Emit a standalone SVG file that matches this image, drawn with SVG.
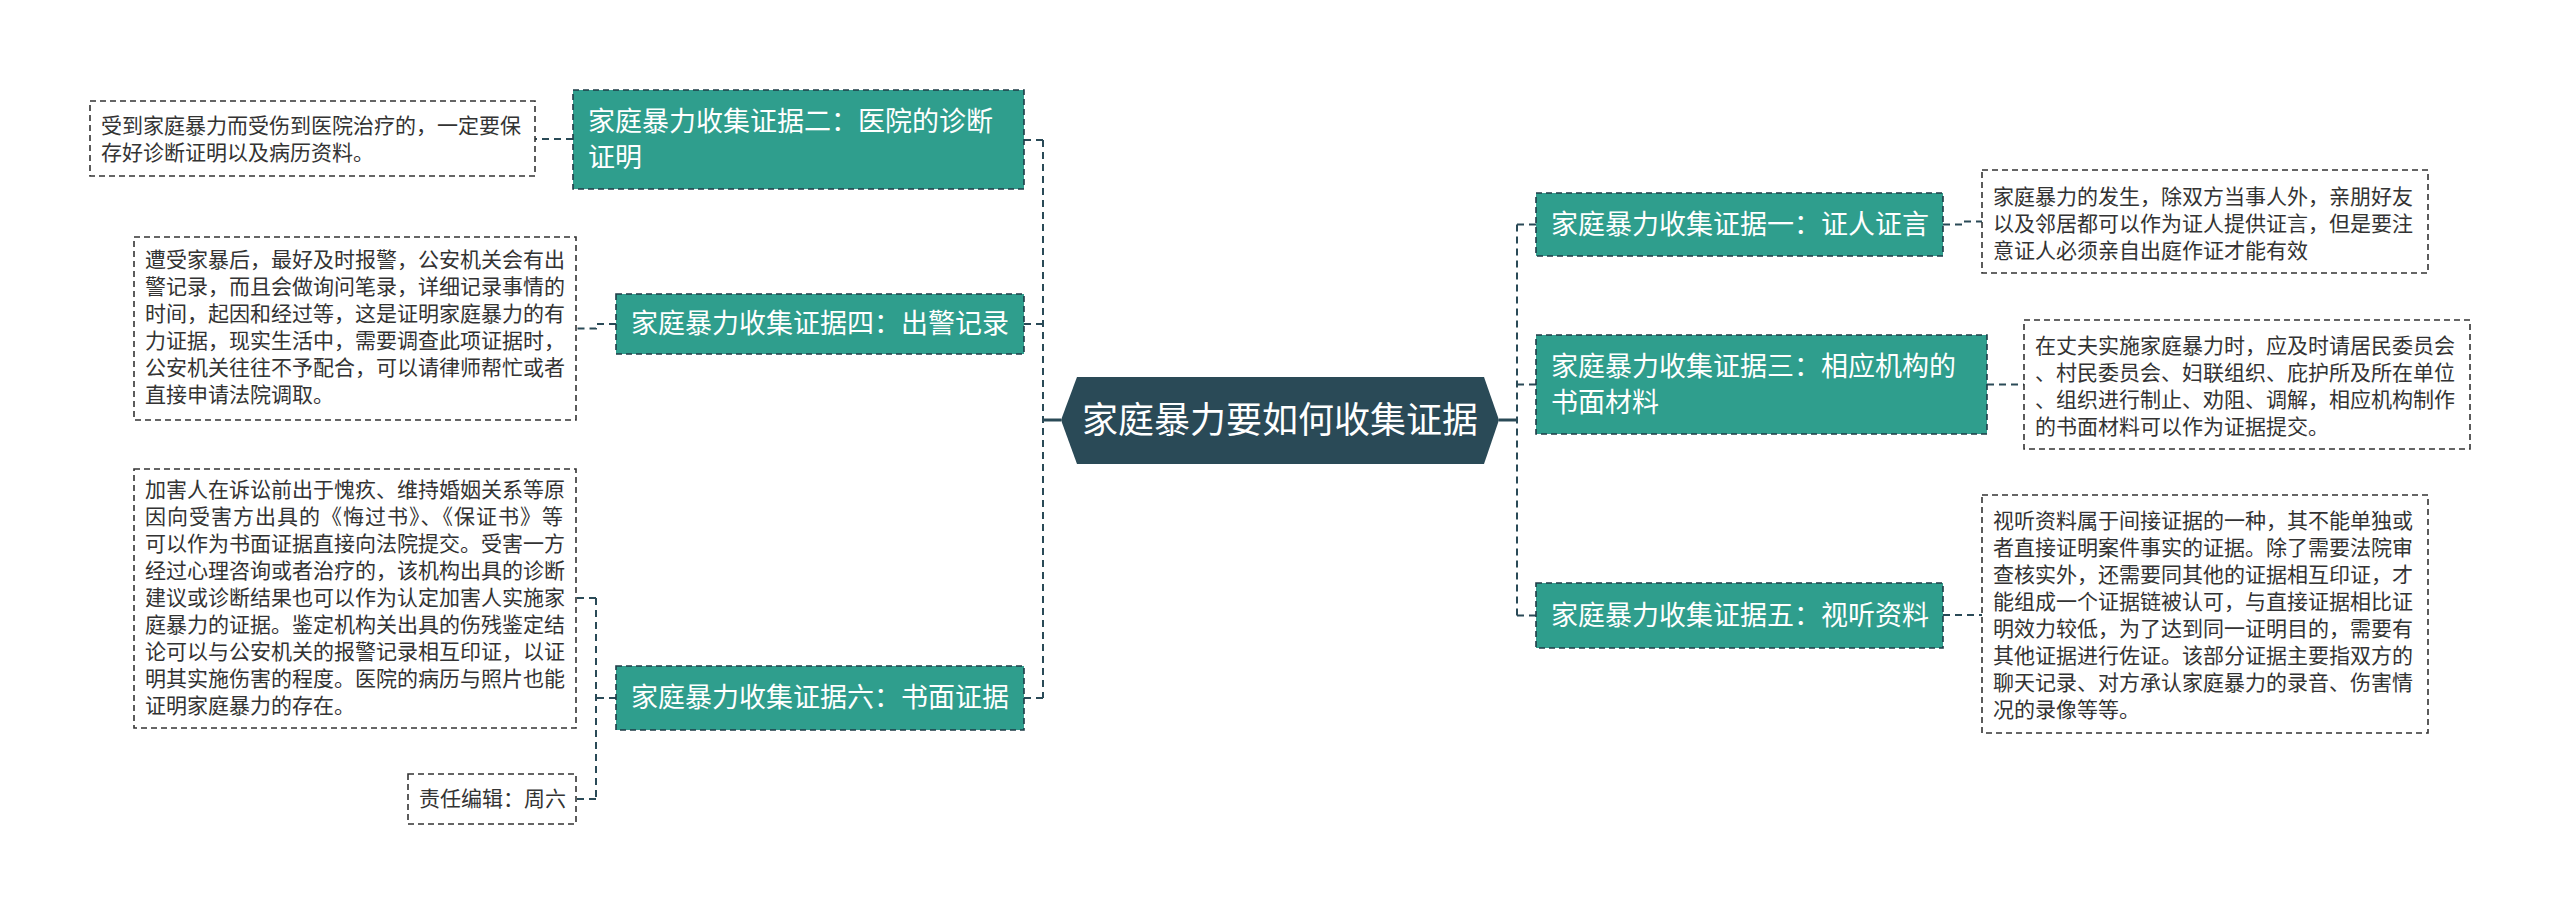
<svg xmlns="http://www.w3.org/2000/svg" width="2560" height="915" viewBox="0 0 2560 915">
<style>
.bg{fill:#ffffff}
.node rect{fill:#2f9e8d;stroke:#1f3c47;stroke-width:1.6;stroke-dasharray:6 4}
.node text{fill:#ffffff;font-family:"Noto Sans CJK SC","Microsoft YaHei",sans-serif;font-size:27px}
.leaf rect{fill:#ffffff;stroke:#333333;stroke-width:1.6;stroke-dasharray:6 4}
.leaf text{fill:#333333;font-family:"Noto Sans CJK SC","Microsoft YaHei",sans-serif;font-size:21px}
.root polygon{fill:#2a4a57}
.root text{fill:#ffffff;font-family:"Noto Sans CJK SC","Microsoft YaHei",sans-serif;font-size:36px}
.conn path{fill:none;stroke:#2a4a57;stroke-width:2;stroke-dasharray:7 5}
.conn path.solid{stroke-dasharray:none;stroke-width:3}
</style>
<rect class="bg" x="0" y="0" width="2560" height="915"/>
<g class="conn" id="connectors">
<path class="solid" d="M1061,420 H1043"/>
<path d="M1043,140 V698"/>
<path d="M1043,140 H1024"/>
<path d="M1043,324 H1024"/>
<path d="M1043,698 H1024"/>
<path class="solid" d="M1499,420 H1517"/>
<path d="M1517,224.5 V615.5"/>
<path d="M1517,224.5 H1536"/>
<path d="M1517,384.5 H1536"/>
<path d="M1517,615.5 H1536"/>
<path d="M573,139 H535"/>
<path d="M616,324 H596 V328.5 H576"/>
<path d="M616,698 H596"/>
<path d="M596,598 V799"/>
<path d="M596,598 H576"/>
<path d="M596,799 H576"/>
<path d="M1943,224.5 H1962 V221.5 H1982"/>
<path d="M1987,384.5 H2024"/>
<path d="M1943,615 H1982"/>
</g>
<g class="root" id="root">
<polygon points="1061,420 1077,377 1484,377 1499,420 1484,464 1077,464"/>
<text x="1280" y="433" text-anchor="middle">家庭暴力要如何收集证据</text>
</g>
<g class="node" id="n2">
<rect x="573" y="90" width="451" height="99"/>
<text x="588" y="131">家庭暴力收集证据二：医院的诊断</text>
<text x="588" y="167">证明</text>
</g>
<g class="node" id="n4">
<rect x="616" y="294" width="408" height="60"/>
<text x="631" y="333">家庭暴力收集证据四：出警记录</text>
</g>
<g class="node" id="n6">
<rect x="616" y="666" width="408" height="64"/>
<text x="631" y="707">家庭暴力收集证据六：书面证据</text>
</g>
<g class="node" id="n1">
<rect x="1536" y="193" width="407" height="63"/>
<text x="1551" y="234">家庭暴力收集证据一：证人证言</text>
</g>
<g class="node" id="n3">
<rect x="1536" y="335" width="451" height="99"/>
<text x="1551" y="376">家庭暴力收集证据三：相应机构的</text>
<text x="1551" y="412">书面材料</text>
</g>
<g class="node" id="n5">
<rect x="1536" y="583" width="407" height="65"/>
<text x="1551" y="625">家庭暴力收集证据五：视听资料</text>
</g>
<g class="leaf" id="l2">
<rect x="90" y="101" width="445" height="75"/>
<text x="101" y="133">受到家庭暴力而受伤到医院治疗的，一定要保</text>
<text x="101" y="160">存好诊断证明以及病历资料。</text>
</g>
<g class="leaf" id="l4">
<rect x="134" y="237" width="442" height="183"/>
<text x="145" y="267">遭受家暴后，最好及时报警，公安机关会有出</text>
<text x="145" y="294">警记录，而且会做询问笔录，详细记录事情的</text>
<text x="145" y="321">时间，起因和经过等，这是证明家庭暴力的有</text>
<text x="145" y="348">力证据，现实生活中，需要调查此项证据时，</text>
<text x="145" y="375">公安机关往往不予配合，可以请律师帮忙或者</text>
<text x="145" y="402">直接申请法院调取。</text>
</g>
<g class="leaf" id="l6">
<rect x="134" y="469" width="442" height="259"/>
<text x="145" y="497">加害人在诉讼前出于愧疚、维持婚姻关系等原</text>
<text x="145" y="524" textLength="418" lengthAdjust="spacing">因向受害方出具的《悔过书》、《保证书》等</text>
<text x="145" y="551">可以作为书面证据直接向法院提交。受害一方</text>
<text x="145" y="578">经过心理咨询或者治疗的，该机构出具的诊断</text>
<text x="145" y="605">建议或诊断结果也可以作为认定加害人实施家</text>
<text x="145" y="632">庭暴力的证据。鉴定机构关出具的伤残鉴定结</text>
<text x="145" y="659">论可以与公安机关的报警记录相互印证，以证</text>
<text x="145" y="686">明其实施伤害的程度。医院的病历与照片也能</text>
<text x="145" y="713">证明家庭暴力的存在。</text>
</g>
<g class="leaf" id="le">
<rect x="408" y="774" width="168" height="50"/>
<text x="419" y="806">责任编辑：周六</text>
</g>
<g class="leaf" id="l1">
<rect x="1982" y="170" width="446" height="103"/>
<text x="1993" y="204">家庭暴力的发生，除双方当事人外，亲朋好友</text>
<text x="1993" y="231">以及邻居都可以作为证人提供证言，但是要注</text>
<text x="1993" y="258">意证人必须亲自出庭作证才能有效</text>
</g>
<g class="leaf" id="l3">
<rect x="2024" y="320" width="446" height="129"/>
<text x="2035" y="353">在丈夫实施家庭暴力时，应及时请居民委员会</text>
<text x="2035" y="380">、村民委员会、妇联组织、庇护所及所在单位</text>
<text x="2035" y="407">、组织进行制止、劝阻、调解，相应机构制作</text>
<text x="2035" y="434">的书面材料可以作为证据提交。</text>
</g>
<g class="leaf" id="l5">
<rect x="1982" y="495" width="446" height="238"/>
<text x="1993" y="528">视听资料属于间接证据的一种，其不能单独或</text>
<text x="1993" y="555">者直接证明案件事实的证据。除了需要法院审</text>
<text x="1993" y="582">查核实外，还需要同其他的证据相互印证，才</text>
<text x="1993" y="609">能组成一个证据链被认可，与直接证据相比证</text>
<text x="1993" y="636">明效力较低，为了达到同一证明目的，需要有</text>
<text x="1993" y="663">其他证据进行佐证。该部分证据主要指双方的</text>
<text x="1993" y="690">聊天记录、对方承认家庭暴力的录音、伤害情</text>
<text x="1993" y="717">况的录像等等。</text>
</g>
</svg>
